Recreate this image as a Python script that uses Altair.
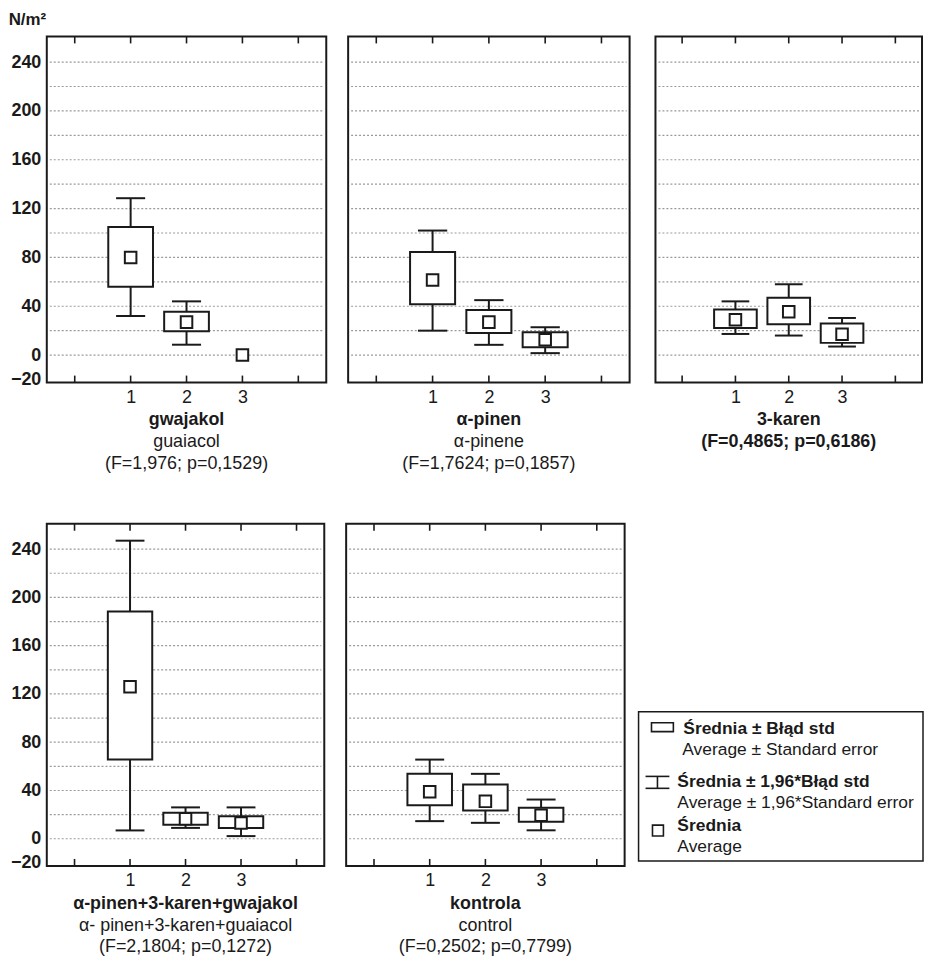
import altair as alt
import pandas as pd

groups = [1, 2, 3]
x_ticks = [0, 1, 2, 3, 4]
grid_values = [0, 20, 40, 60, 80, 100, 120, 140, 160, 180, 200, 220, 240]
y_labels = [-20, 0, 40, 80, 120, 160, 200, 240]

# gwajakol / guaiacol
gw_mean = [80, 27, 0]
gw_se_lo = [56, 19.5, 0]
gw_se_hi = [105, 35.5, 0]
gw_ci_lo = [32, 8.5, 0]
gw_ci_hi = [128.5, 44, 0]

# alpha-pinen
ap_mean = [61.5, 27, 12.5]
ap_se_lo = [41.7, 18, 6.5]
ap_se_hi = [84.4, 37, 18.7]
ap_ci_lo = [20, 8.4, 1.6]
ap_ci_hi = [102, 45, 22.8]

# 3-karen
ka_mean = [29, 35.5, 17]
ka_se_lo = [22.2, 25.2, 10]
ka_se_hi = [37.4, 47, 25.8]
ka_ci_lo = [17.3, 16, 7]
ka_ci_hi = [44, 58, 30.4]

# mixture
mx_mean = [126, 16.5, 13]
mx_se_lo = [65.6, 11.6, 9]
mx_se_hi = [188.4, 21.5, 18.7]
mx_ci_lo = [6.9, 9, 2.2]
mx_ci_hi = [247, 26, 26]

# kontrola / control
ko_mean = [39, 31, 19.5]
ko_se_lo = [27.8, 23.4, 14]
ko_se_hi = [53.8, 45, 25.6]
ko_ci_lo = [14.6, 13.2, 7]
ko_ci_hi = [65.6, 53.8, 32.5]

FONT = "Liberation Sans"
INK = "#1a1a1a"
Y_DOMAIN = [-22.5, 261]


def panel(mean, se_lo, se_hi, ci_lo, ci_hi, title, subtitle, width, height,
          show_y, y_title=False, sub_weight="normal"):
    df = pd.DataFrame({"group": groups, "mean": mean, "se_lo": se_lo,
                       "se_hi": se_hi, "ci_lo": ci_lo, "ci_hi": ci_hi})
    xs = alt.Scale(domain=[-0.5, 4.5], nice=False, zero=False)
    ys = alt.Scale(domain=Y_DOMAIN, nice=False, zero=False)
    x_axis = alt.Axis(values=groups, title=None, grid=False, ticks=False,
                      domain=False, labelFont=FONT, labelFontSize=18,
                      labelColor=INK, labelPadding=6, format="d")
    if show_y:
        ax_kw = dict(values=y_labels, grid=False, ticks=False, domain=False,
                     labelFont=FONT, labelFontSize=18, labelFontWeight="bold",
                     labelColor=INK, labelPadding=6)
        if y_title:
            ax_kw.update(title="N/m²", titleAngle=0, titleX=-20, titleY=-12,
                         titleAlign="center", titleBaseline="alphabetic",
                         titleFont=FONT, titleFontSize=17,
                         titleFontWeight="bold", titleColor=INK)
        else:
            ax_kw.update(title=None)
        y_axis = alt.Axis(**ax_kw)
    else:
        y_axis = None

    base = alt.Chart(df)
    grid = alt.Chart(pd.DataFrame({"g": grid_values})).mark_rule(
        strokeDash=[2, 2], color="#9a9a9a", strokeWidth=1.2
    ).encode(y=alt.Y("g:Q", scale=ys, axis=y_axis),
             x=alt.value(3), x2=alt.value(width - 3))

    tdf = pd.DataFrame({"t": x_ticks})
    ticks_top = alt.Chart(tdf).mark_rule(color=INK, strokeWidth=1.6).encode(
        x=alt.X("t:Q", scale=xs, axis=x_axis), y=alt.value(0), y2=alt.value(7))
    ticks_bot = alt.Chart(tdf).mark_rule(color=INK, strokeWidth=1.6).encode(
        x=alt.X("t:Q", scale=xs, axis=x_axis), y=alt.value(height - 7),
        y2=alt.value(height))

    ci = base.transform_filter("datum.ci_hi > datum.ci_lo")
    whisk = ci.mark_rule(color=INK, strokeWidth=2).encode(
        x=alt.X("group:Q", scale=xs, axis=x_axis),
        y=alt.Y("ci_lo:Q", scale=ys, axis=y_axis), y2="ci_hi:Q")
    caps = ci.transform_calculate(c_lo="datum.group - 0.26",
                                  c_hi="datum.group + 0.26")
    cap_lo = caps.mark_rule(color=INK, strokeWidth=2).encode(
        x=alt.X("c_lo:Q", scale=xs, axis=x_axis), x2="c_hi:Q",
        y=alt.Y("ci_lo:Q", scale=ys, axis=y_axis))
    cap_hi = caps.mark_rule(color=INK, strokeWidth=2).encode(
        x=alt.X("c_lo:Q", scale=xs, axis=x_axis), x2="c_hi:Q",
        y=alt.Y("ci_hi:Q", scale=ys, axis=y_axis))

    box = base.transform_filter("datum.se_hi > datum.se_lo").transform_calculate(
        b_lo="datum.group - 0.4", b_hi="datum.group + 0.4"
    ).mark_rect(fill="white", stroke=INK, strokeWidth=2).encode(
        x=alt.X("b_lo:Q", scale=xs, axis=x_axis), x2="b_hi:Q",
        y=alt.Y("se_lo:Q", scale=ys, axis=y_axis), y2="se_hi:Q")

    mean_pt = base.mark_square(size=135, fill="white", stroke=INK,
                               strokeWidth=2, opacity=1).encode(
        x=alt.X("group:Q", scale=xs, axis=x_axis),
        y=alt.Y("mean:Q", scale=ys, axis=y_axis))

    frame = alt.Chart(pd.DataFrame({"f": [0]})).mark_rect(
        fillOpacity=0, stroke=INK, strokeWidth=2
    ).encode(x=alt.value(0), x2=alt.value(width), y=alt.value(0),
             y2=alt.value(height))

    return alt.layer(grid, ticks_top, ticks_bot, whisk, cap_lo, cap_hi, box,
                     mean_pt, frame).properties(
        width=width, height=height,
        title=alt.TitleParams(
            text=title, subtitle=subtitle, orient="bottom", anchor="middle",
            font=FONT, fontSize=18, fontWeight="bold", color=INK,
            subtitleFont=FONT, subtitleFontSize=18,
            subtitleFontWeight=sub_weight, subtitleColor=INK,
            subtitlePadding=4, subtitleLineHeight=22, offset=5))


p1 = panel(gw_mean, gw_se_lo, gw_se_hi, gw_ci_lo, gw_ci_hi, "gwajakol",
           ["guaiacol", "(F=1,976; p=0,1529)"], 281, 348, True, y_title=True)
p2 = panel(ap_mean, ap_se_lo, ap_se_hi, ap_ci_lo, ap_ci_hi, "α-pinen",
           ["α-pinene", "(F=1,7624; p=0,1857)"], 283, 348, False)
p3 = panel(ka_mean, ka_se_lo, ka_se_hi, ka_ci_lo, ka_ci_hi, "3-karen",
           ["(F=0,4865; p=0,6186)"], 268, 348, False, sub_weight="bold")
p4 = panel(mx_mean, mx_se_lo, mx_se_hi, mx_ci_lo, mx_ci_hi,
           "α-pinen+3-karen+gwajakol",
           ["α- pinen+3-karen+guaiacol", "(F=2,1804; p=0,1272)"], 279, 344, True)
p5 = panel(ko_mean, ko_se_lo, ko_se_hi, ko_ci_lo, ko_ci_hi, "kontrola",
           ["control", "(F=0,2502; p=0,7799)"], 280, 344, False)

# ---- custom legend ----
leg_bold = ["Średnia ± Błąd std", "Średnia ± 1,96*Błąd std", "Średnia"]
leg_norm = ["Average ± Standard error", "Average ± 1,96*Standard error", "Average"]

ldf = pd.DataFrame({"k": [0]})
LW, LH = 286, 344
lb = alt.Chart(ldf)
leg_layers = [
    lb.mark_rect(fill="white", stroke=INK, strokeWidth=1.5).encode(
        x=alt.value(0), x2=alt.value(LW), y=alt.value(189), y2=alt.value(339)),
    lb.mark_rect(fillOpacity=0, stroke=INK, strokeWidth=1.6).encode(
        x=alt.value(13), x2=alt.value(35), y=alt.value(200), y2=alt.value(209)),
    lb.mark_rule(color=INK, strokeWidth=1.6).encode(
        x=alt.value(7), x2=alt.value(31), y=alt.value(254)),
    lb.mark_rule(color=INK, strokeWidth=1.6).encode(
        x=alt.value(7), x2=alt.value(31), y=alt.value(266)),
    lb.mark_rule(color=INK, strokeWidth=1.6).encode(
        x=alt.value(19), y=alt.value(254), y2=alt.value(266)),
    lb.mark_rect(fillOpacity=0, stroke=INK, strokeWidth=1.6).encode(
        x=alt.value(14), x2=alt.value(25), y=alt.value(303), y2=alt.value(314)),
]
text_pos = [(45, 206, leg_bold[0], "bold"), (44, 227, leg_norm[0], "normal"),
            (39, 260, leg_bold[1], "bold"), (39, 281, leg_norm[1], "normal"),
            (39, 304, leg_bold[2], "bold"), (39, 325, leg_norm[2], "normal")]
for tx, ty, label, wt in text_pos:
    leg_layers.append(
        lb.mark_text(align="left", baseline="middle", font=FONT, fontSize=17.5,
                     fontWeight=wt, color=INK).encode(
            x=alt.value(tx), y=alt.value(ty), text=alt.value(label)))
legend = alt.layer(*leg_layers).properties(width=LW, height=LH)

row1 = alt.hconcat(alt.hconcat(p1, p2, spacing=20), p3, spacing=24)
row2 = alt.hconcat(alt.hconcat(p4, p5, spacing=20), legend, spacing=12)

chart = alt.vconcat(row1, row2, spacing=50).configure_view(
    stroke=None).properties(padding=0, background="white")

chart.save("out.html", embed_options={"renderer": "svg", "actions": False})
